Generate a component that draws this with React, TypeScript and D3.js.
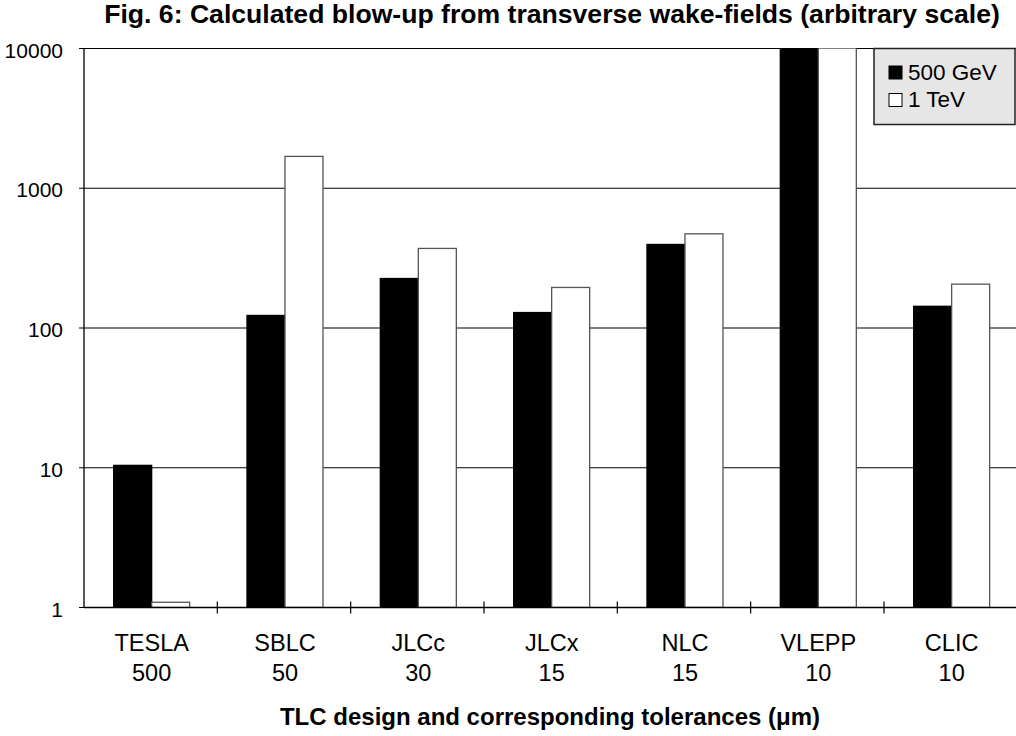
import React from "react";
import * as d3 from "d3";

const categories = ["TESLA", "SBLC", "JLCc", "JLCx", "NLC", "VLEPP", "CLIC"];
const tolerances = ["500", "50", "30", "15", "15", "10", "10"];
const series = ["500 GeV", "1 TeV"];
const values500GeV = [10.4, 123, 226, 129, 396, 30000, 143];
const values1TeV = [1.09, 1690, 371, 195, 472, 30000, 206];
const yTicks = [1, 10, 100, 1000, 10000];
const seriesColors = ["#000000", "#ffffff"];

const W = 1016;
const H = 736;
const left = 84;
const top = 48.5;
const bottom = 607.5;
const band = 133.33;

export default function App() {
  const x = d3
    .scaleBand<string>()
    .domain(categories)
    .range([left, left + band * categories.length])
    .padding(0);
  const x1 = d3.scaleBand<string>().domain(series).range([-37, 39]).padding(0);
  const y = d3.scaleLog().domain([1, 10000]).range([bottom, top]);
  const data = [values500GeV, values1TeV];
  const font = "'Liberation Sans', Arial, Helvetica, sans-serif";

  return (
    <svg
      width={W}
      height={H}
      style={{ position: "absolute", left: 0, top: 0, background: "#fff" }}
      fontFamily={font}
    >
      <defs>
        <clipPath id="plot">
          <rect x={left} y={top} width={W - left} height={bottom - top} />
        </clipPath>
      </defs>
      <text
        x={552}
        y={23}
        textAnchor="middle"
        fontSize={26.6}
        fontWeight="bold"
        fill="#000"
      >
        Fig. 6: Calculated blow-up from transverse wake-fields (arbitrary scale)
      </text>

      {/* gridlines */}
      {yTicks.slice(1).map((t) => (
        <line
          key={"g" + t}
          x1={left}
          x2={W}
          y1={y(t)}
          y2={y(t)}
          stroke="#000"
          strokeWidth={1.2}
        />
      ))}
      {/* y ticks & labels */}
      {yTicks.map((t) => (
        <g key={"y" + t}>
          <line x1={left - 5} x2={left} y1={y(t)} y2={y(t)} stroke="#000" />
          <text
            x={63}
            y={y(t) + 9}
            textAnchor="end"
            fontSize={21}
            fill="#000"
          >
            {t}
          </text>
        </g>
      ))}

      {/* bars */}
      <g clipPath="url(#plot)">
        {categories.map((c, i) =>
          series.map((s, j) => {
            const cx = (x(c) as number) + x.bandwidth() / 2;
            const v = data[j][i];
            const yy = y(v);
            return (
              <rect
                key={c + s}
                x={cx + (x1(s) as number)}
                y={yy}
                width={x1.bandwidth()}
                height={bottom - yy}
                fill={seriesColors[j]}
                stroke={j === 0 ? "#000" : "#555"}
                strokeWidth={1.3}
              />
            );
          })
        )}
      </g>

      {/* axes */}
      <line x1={left} x2={left} y1={top} y2={bottom} stroke="#000" strokeWidth={1.3} />
      <line x1={left} x2={W} y1={bottom} y2={bottom} stroke="#000" strokeWidth={1.3} />
      {categories.slice(1).map((c) => (
        <line
          key={"xt" + c}
          x1={x(c) as number}
          x2={x(c) as number}
          y1={bottom - 6}
          y2={bottom + 6}
          stroke="#000"
          strokeWidth={1.2}
        />
      ))}
      {categories.map((c, i) => {
        const cx = (x(c) as number) + x.bandwidth() / 2 + 1;
        return (
          <g key={"xl" + c}>
            <text x={cx} y={651} textAnchor="middle" fontSize={23.5} fill="#000">
              {c}
            </text>
            <text x={cx} y={681} textAnchor="middle" fontSize={23.5} fill="#000">
              {tolerances[i]}
            </text>
          </g>
        );
      })}
      <text
        x={550}
        y={725}
        textAnchor="middle"
        fontSize={24}
        fontWeight="bold"
        fill="#000"
      >
        TLC design and corresponding tolerances (μm)
      </text>

      {/* legend */}
      <rect
        x={874}
        y={48.5}
        width={141}
        height={76}
        fill="#e6e6e6"
        stroke="#222"
        strokeWidth={1.5}
      />
      {series.map((s, j) => (
        <g key={"lg" + s}>
          <rect
            x={889}
            y={66 + j * 27.5}
            width={13}
            height={13}
            fill={seriesColors[j]}
            stroke="#000"
            strokeWidth={1}
          />
          <text x={908} y={80 + j * 27} fontSize={22.5} fill="#000">
            {s}
          </text>
        </g>
      ))}
    </svg>
  );
}
